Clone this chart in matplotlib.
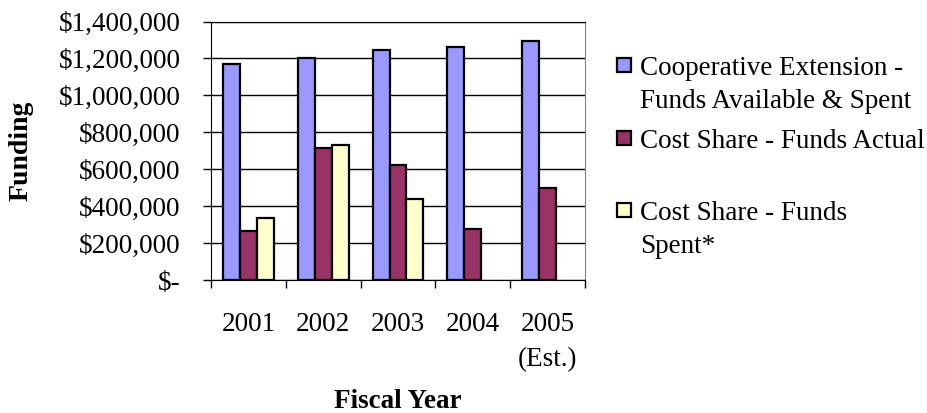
import numpy as np
import matplotlib
matplotlib.use("Agg")
import matplotlib.pyplot as plt
from matplotlib.patches import Rectangle
from matplotlib.ticker import FuncFormatter, FixedLocator

years = ["2001", "2002", "2003", "2004", "2005\n(Est.)"]
series_names = ["Cooperative Extension -\nFunds Available & Spent",
                "Cost Share - Funds Actual",
                "Cost Share - Funds\nSpent*"]
coop_ext = [1170000, 1201000, 1248000, 1261000, 1292000]
cost_actual = [268000, 717000, 621000, 274000, 498000]
cost_spent = [335000, 730000, 438000, 0, 0]
colors = ["#9999FF", "#993366", "#FFFFCC"]

plt.rcParams['font.family'] = ['Liberation Serif', 'DejaVu Serif']
fs = 19.5

fig = plt.figure(figsize=(9.28, 4.13), dpi=100)
ax = fig.add_axes([211/928, 1 - 280/413, (585 - 211)/928, (280 - 21.5)/413])

x = np.arange(len(years))
w = 0.227
for i, vals in enumerate([coop_ext, cost_actual, cost_spent]):
    xs = [xx + (i - 1) * w for xx, v in zip(x, vals) if v > 0]
    vs = [v for v in vals if v > 0]
    ax.bar(xs, vs, width=w, color=colors[i], edgecolor="black", linewidth=1.6, zorder=3)

ax.set_xlim(-0.5, len(years) - 0.5)
ax.set_ylim(0, 1400000)
ax.set_yticks(np.arange(0, 1400001, 200000))
ax.yaxis.set_major_formatter(FuncFormatter(lambda v, p: "$-" if v == 0 else "${:,.0f}".format(v)))
ax.grid(axis="y", color="black", linewidth=1, zorder=0)

ax.xaxis.set_major_locator(FixedLocator(np.arange(-0.5, len(years), 1)))
ax.set_xticklabels([])
ax.xaxis.set_minor_locator(FixedLocator(x))
ax.set_xticklabels(years, minor=True)
for lbl in ax.get_xminorticklabels():
    lbl.set_linespacing(1.55)
ax.tick_params(axis="x", which="major", length=6, width=1, color="black")
ax.tick_params(axis="x", which="minor", length=0, pad=23, labelsize=fs)
ax.tick_params(axis="y", length=6, width=1, pad=16, labelsize=fs)

for s in ["left", "bottom", "top"]:
    ax.spines[s].set_color("black")
ax.spines["right"].set_color("#808080")

ax.set_ylabel("Funding", fontsize=20, fontweight="bold", labelpad=18)
fig.text(398/928, 1 - 402/413, "Fiscal Year", fontsize=fs, fontweight="bold",
         ha="center", va="center")

# legend drawn by hand so the swatch sits on the first line
row_y = [65, 138, 210]
for name, col, ry in zip(series_names, colors, row_y):
    fig.patches.append(Rectangle((617/928, 1 - (ry + 7)/413), 14/928, 14/413,
                                 transform=fig.transFigure, facecolor=col,
                                 edgecolor="black", linewidth=1.6))
    fig.text(640/928, 1 - (ry - 9)/413, name, fontsize=fs, ha="left", va="top",
             linespacing=1.4)

fig.savefig("out.png", dpi=100)
